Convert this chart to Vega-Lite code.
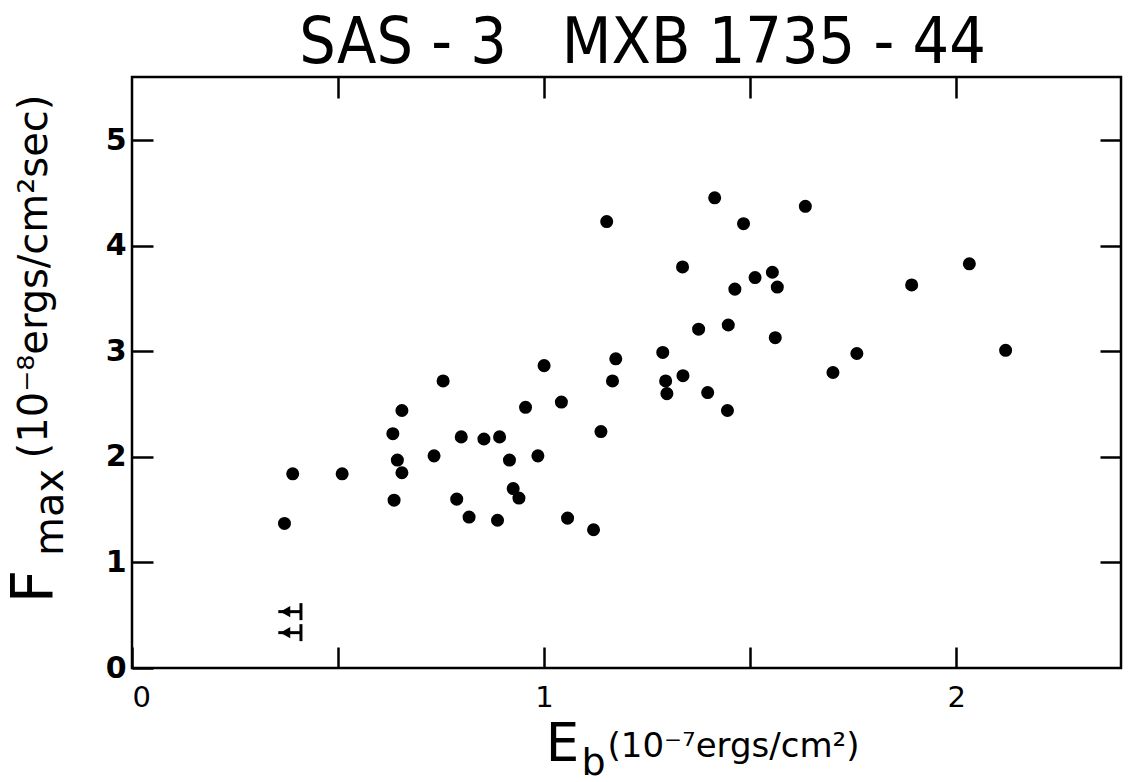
{
  "$schema": "https://vega.github.io/schema/vega-lite/v6.json",
  "width": 989,
  "height": 591,
  "autosize": {"type": "none"},
  "padding": {"left": 132, "top": 77, "right": 9, "bottom": 114},
  "background": "white",
  "config": {
    "view": {"stroke": "black", "strokeWidth": 2.5},
    "axis": {
      "domain": false,
      "grid": false,
      "tickColor": "black",
      "tickWidth": 2.5,
      "tickSize": -21,
      "labelColor": "black",
      "titleColor": "black",
      "labelFont": "DejaVu Sans",
      "titleFont": "DejaVu Sans",
      "titleFontWeight": "normal",
      "labelFontSize": 30,
      "titleAlign": "center",
      "titleBaseline": "alphabetic"
    }
  },
  "datasets": {
    "bursts": [
      {"Eb": 0.37, "Fmax": 1.37}, {"Eb": 0.39, "Fmax": 1.84}, {"Eb": 0.51, "Fmax": 1.84},
      {"Eb": 0.633, "Fmax": 2.22}, {"Eb": 0.655, "Fmax": 2.44}, {"Eb": 0.644, "Fmax": 1.97},
      {"Eb": 0.655, "Fmax": 1.85}, {"Eb": 0.636, "Fmax": 1.59}, {"Eb": 0.755, "Fmax": 2.72},
      {"Eb": 0.733, "Fmax": 2.01}, {"Eb": 0.799, "Fmax": 2.19}, {"Eb": 0.788, "Fmax": 1.6},
      {"Eb": 0.818, "Fmax": 1.43}, {"Eb": 0.854, "Fmax": 2.17}, {"Eb": 0.892, "Fmax": 2.19},
      {"Eb": 0.887, "Fmax": 1.4}, {"Eb": 0.916, "Fmax": 1.97}, {"Eb": 0.925, "Fmax": 1.7},
      {"Eb": 0.939, "Fmax": 1.61}, {"Eb": 0.955, "Fmax": 2.47}, {"Eb": 0.985, "Fmax": 2.01},
      {"Eb": 1.0, "Fmax": 2.865}, {"Eb": 1.042, "Fmax": 2.52}, {"Eb": 1.057, "Fmax": 1.42},
      {"Eb": 1.12, "Fmax": 1.31}, {"Eb": 1.138, "Fmax": 2.24}, {"Eb": 1.174, "Fmax": 2.93},
      {"Eb": 1.166, "Fmax": 2.72}, {"Eb": 1.288, "Fmax": 2.99}, {"Eb": 1.295, "Fmax": 2.72},
      {"Eb": 1.298, "Fmax": 2.6}, {"Eb": 1.337, "Fmax": 2.77}, {"Eb": 1.397, "Fmax": 2.61},
      {"Eb": 1.445, "Fmax": 2.44}, {"Eb": 1.701, "Fmax": 2.8}, {"Eb": 1.759, "Fmax": 2.98},
      {"Eb": 2.12, "Fmax": 3.01}, {"Eb": 1.152, "Fmax": 4.23}, {"Eb": 1.414, "Fmax": 4.455},
      {"Eb": 1.484, "Fmax": 4.21}, {"Eb": 1.634, "Fmax": 4.375}, {"Eb": 1.336, "Fmax": 3.8},
      {"Eb": 1.512, "Fmax": 3.7}, {"Eb": 1.554, "Fmax": 3.75}, {"Eb": 1.566, "Fmax": 3.61},
      {"Eb": 1.463, "Fmax": 3.59}, {"Eb": 1.892, "Fmax": 3.63}, {"Eb": 2.032, "Fmax": 3.83},
      {"Eb": 1.375, "Fmax": 3.21}, {"Eb": 1.447, "Fmax": 3.25}, {"Eb": 1.561, "Fmax": 3.13}
    ],
    "limits": [
      {"Eb": 0.41, "Eb_tip": 0.355, "Eb_head": 0.372, "Fmax": 0.534},
      {"Eb": 0.41, "Eb_tip": 0.355, "Eb_head": 0.372, "Fmax": 0.335}
    ]
  },
  "layer": [
    {
      "data": {"name": "bursts"},
      "mark": {"type": "circle", "size": 170, "color": "black", "opacity": 1},
      "encoding": {
        "x": {
          "field": "Eb", "type": "quantitative",
          "scale": {"domain": [0, 2.4], "nice": false},
          "axis": {
            "orient": "bottom", "values": [0, 0.5, 1, 1.5, 2],
            "labelExpr": "datum.value % 1 == 0 ? '' + datum.value : ''",
            "labelPadding": 36, "labelFontSize": 29,
            "title": "E", "titleFontSize": 53, "titleX": 430, "titleY": 92, "titleAngle": 0
          }
        },
        "y": {
          "field": "Fmax", "type": "quantitative",
          "scale": {"domain": [0, 5.6], "nice": false},
          "axis": {
            "orient": "left", "values": [0, 1, 2, 3, 4, 5],
            "labelPadding": 27, "labelFontWeight": "bold",
            "title": "F", "titleFontSize": 58, "titleAngle": 270, "titleX": -80, "titleY": 509
          }
        }
      }
    },
    {
      "data": {"name": "limits"},
      "mark": {"type": "rule", "color": "black", "strokeWidth": 3},
      "encoding": {
        "x": {
          "field": "Eb_tip", "type": "quantitative",
          "scale": {"domain": [0, 2.4], "nice": false},
          "axis": {
            "orient": "top", "values": [0.5, 1, 1.5, 2], "labels": false,
            "title": "SAS - 3\u00a0\u00a0 MXB 1735 - 44",
            "titleFont": "DejaVu Sans Condensed, DejaVu Sans",
            "titleFontSize": 64, "titleX": 510, "titleY": -15, "titleAngle": 0
          }
        },
        "x2": {"field": "Eb"},
        "y": {
          "field": "Fmax", "type": "quantitative",
          "scale": {"domain": [0, 5.6], "nice": false},
          "axis": {
            "orient": "right", "values": [1, 2, 3, 4, 5], "labels": false,
            "title": "max", "titleFontSize": 40, "titleAngle": 270, "titleX": -1059, "titleY": 435
          }
        }
      }
    },
    {
      "data": {"name": "limits"},
      "mark": {"type": "tick", "orient": "vertical", "color": "black", "thickness": 3, "size": 17, "opacity": 1},
      "encoding": {
        "x": {
          "field": "Eb", "type": "quantitative",
          "scale": {"domain": [0, 2.4], "nice": false},
          "axis": {
            "orient": "bottom", "ticks": false, "labels": false,
            "title": "(10⁻⁷ergs/cm²)", "titleFontSize": 34, "titleX": 601, "titleY": 88, "titleAngle": 0
          }
        },
        "y": {
          "field": "Fmax", "type": "quantitative",
          "scale": {"domain": [0, 5.6], "nice": false},
          "axis": {
            "orient": "left", "ticks": false, "labels": false,
            "title": "(10⁻⁸ergs/cm²sec)", "titleFontSize": 40, "titleAngle": 270, "titleX": -86, "titleY": 199
          }
        }
      }
    },
    {
      "data": {"name": "limits"},
      "mark": {"type": "point", "shape": "triangle-left", "filled": true, "color": "black", "size": 130, "opacity": 1},
      "encoding": {
        "x": {
          "field": "Eb_head", "type": "quantitative",
          "scale": {"domain": [0, 2.4], "nice": false},
          "axis": {
            "orient": "top", "ticks": false, "labels": false,
            "title": "b", "titleFontSize": 38, "titleX": 461, "titleY": 697, "titleAngle": 0
          }
        },
        "y": {"field": "Fmax", "type": "quantitative", "scale": {"domain": [0, 5.6], "nice": false}, "axis": null}
      }
    }
  ],
  "resolve": {"scale": {"x": "independent", "y": "independent"}}
}
